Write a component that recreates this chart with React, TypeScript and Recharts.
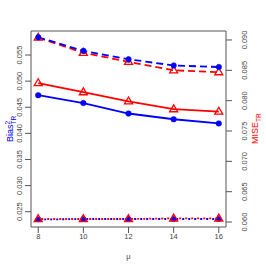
import { LineChart, Line, XAxis, YAxis, ReferenceArea } from "recharts";

const mu = [8, 10, 12, 14, 16];
const biasSolid = [0.0473, 0.0458, 0.0438, 0.0427, 0.0419];
const biasDashed = [0.0584, 0.0558, 0.0542, 0.053, 0.0527];
const biasDotted = [0.0235, 0.0236, 0.0236, 0.0236, 0.0236];
const miseSolid = [0.0829, 0.0814, 0.0799, 0.0786, 0.0782];
const miseDashed = [0.0904, 0.0879, 0.0864, 0.085, 0.0847];
const miseDotted = [0.0605, 0.0605, 0.0605, 0.0606, 0.0606];

const xTicks = [8, 10, 12, 14, 16];
const leftTicks = [0.025, 0.03, 0.035, 0.04, 0.045, 0.05, 0.055];
const rightTicks = [0.06, 0.065, 0.07, 0.075, 0.08, 0.085, 0.09];

const xDomain: [number, number] = [7.68, 16.32];
const leftDomain: [number, number] = [0.02207, 0.0596];
const rightDomain: [number, number] = [0.05918, 0.09148];

const data = mu.map((m, i) => ({
  mu: m,
  biasSolid: biasSolid[i],
  biasDashed: biasDashed[i],
  biasDotted: biasDotted[i],
  miseSolid: miseSolid[i],
  miseDashed: miseDashed[i],
  miseDotted: miseDotted[i],
}));

const BLUE = "#0000ff";
const RED = "#ff0000";
const AXIS = "#555";
const FONT = "'Liberation Sans', Arial, sans-serif";

const blueDot = { r: 2.8, fill: BLUE, stroke: BLUE, strokeWidth: 0.5 };

function Triangle(props: any) {
  const { cx, cy, index } = props;
  if (cx == null || cy == null) return null;
  return (
    <polygon
      key={index}
      points={`${cx},${cy - 4.3} ${cx - 4},${cy + 2.6} ${cx + 4},${cy + 2.6}`}
      fill="none"
      stroke={RED}
      strokeWidth={1.3}
    />
  );
}

function rotTick(cx: number) {
  return (props: any) => {
    const { y, payload } = props;
    return (
      <text
        x={cx}
        y={y}
        transform={`rotate(-90 ${cx} ${y})`}
        textAnchor="middle"
        dy="0.35em"
        fontSize={7.5}
        fontFamily={FONT}
        fill="#444"
      >
        {payload.value.toFixed(3)}
      </text>
    );
  };
}

function LeftLabel() {
  return (
    <text
      x={13}
      y={142}
      transform="rotate(-90 13 142)"
      fontSize={9}
      fontFamily={FONT}
      fill={BLUE}
    >
      Bias
      <tspan dy={-3.5} fontSize={6.5}>2</tspan>
      <tspan dx={-3.6} dy={6} fontSize={6.5}>TR</tspan>
    </text>
  );
}

function RightLabel() {
  return (
    <text
      x={258}
      y={144}
      transform="rotate(-90 258 144)"
      fontSize={9}
      fontFamily={FONT}
      fill={RED}
    >
      MISE
      <tspan dy={2.5} fontSize={6.5}>TR</tspan>
    </text>
  );
}

export default function App() {
  return (
    <div style={{ position: "absolute", left: 0, top: 0, background: "#fff" }}>
      <LineChart
        width={266}
        height={266}
        data={data}
        margin={{ top: 31, right: 0, bottom: 0, left: 0 }}
      >
        <XAxis
          dataKey="mu"
          type="number"
          domain={xDomain}
          ticks={xTicks}
          height={39}
          tickSize={6}
          tickMargin={1}
          axisLine={false}
          tickLine={{ stroke: AXIS }}
          tick={{ fontSize: 7.5, fontFamily: FONT, fill: "#444" }}
          allowDataOverflow
          label={() => (
            <text x={128.5} y={259} textAnchor="middle" fontSize={7.5} fontFamily={FONT} fill="#444">
              μ
            </text>
          )}
        />
        <YAxis
          yAxisId="left"
          orientation="left"
          width={31}
          domain={leftDomain}
          ticks={leftTicks}
          allowDataOverflow
          tickSize={6}
          axisLine={false}
          tickLine={{ stroke: AXIS }}
          tick={rotTick(19.5)}
          label={() => <LeftLabel />}
        />
        <YAxis
          yAxisId="right"
          orientation="right"
          width={40}
          domain={rightDomain}
          ticks={rightTicks}
          allowDataOverflow
          tickSize={6}
          axisLine={false}
          tickLine={{ stroke: AXIS }}
          tick={rotTick(244.5)}
          label={() => <RightLabel />}
        />
        <ReferenceArea
          yAxisId="left"
          x1={xDomain[0]}
          x2={xDomain[1]}
          y1={leftDomain[0]}
          y2={leftDomain[1]}
          fill="none"
          fillOpacity={0}
          stroke={AXIS}
          strokeWidth={1}
          ifOverflow="visible"
        />
        <Line yAxisId="right" dataKey="miseDashed" stroke={RED} strokeWidth={1.8} strokeDasharray="7 4" dot={<Triangle />} isAnimationActive={false} />
        <Line yAxisId="left" dataKey="biasDashed" stroke={BLUE} strokeWidth={1.8} strokeDasharray="7 4" dot={blueDot} isAnimationActive={false} />
        <Line yAxisId="left" dataKey="biasSolid" stroke={BLUE} strokeWidth={1.8} dot={blueDot} isAnimationActive={false} />
        <Line yAxisId="right" dataKey="miseSolid" stroke={RED} strokeWidth={1.8} dot={<Triangle />} isAnimationActive={false} />
        <Line yAxisId="left" dataKey="biasDotted" stroke={BLUE} strokeWidth={1.8} strokeDasharray="2 4" dot={blueDot} isAnimationActive={false} />
        <Line yAxisId="right" dataKey="miseDotted" stroke={RED} strokeWidth={1.8} strokeDasharray="2 4" strokeDashoffset={3} dot={<Triangle />} isAnimationActive={false} />
      </LineChart>
    </div>
  );
}
